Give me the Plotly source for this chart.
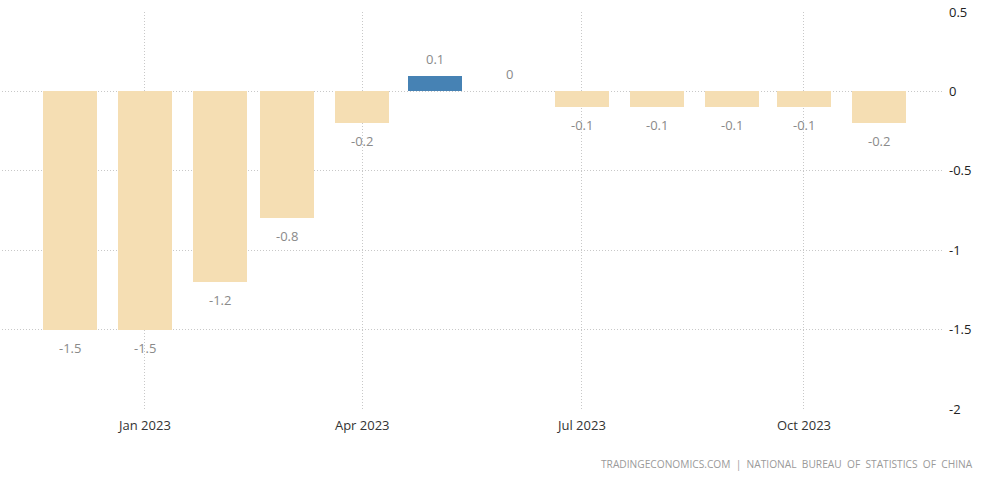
import plotly.graph_objects as go

months = ["2022-12-01", "2023-01-01", "2023-02-01", "2023-03-01", "2023-04-01", "2023-05-01",
          "2023-06-01", "2023-07-01", "2023-08-01", "2023-09-01", "2023-10-01", "2023-11-01"]
values = [-1.5, -1.5, -1.2, -0.8, -0.2, 0.1, 0, -0.1, -0.1, -0.1, -0.1, -0.2]
labels = ["-1.5", "-1.5", "-1.2", "-0.8", "-0.2", "0.1", "0", "-0.1", "-0.1", "-0.1", "-0.1", "-0.2"]
tick_vals = ["2023-01-01", "2023-04-01", "2023-07-01", "2023-10-01"]
tick_text = ["Jan 2023", "Apr 2023", "Jul 2023", "Oct 2023"]
y_ticks = [0.5, 0, -0.5, -1, -1.5, -2]
y_text = ["0.5", "0", "-0.5", "-1", "-1.5", "-2"]
source = "TRADINGECONOMICS.COM  |  NATIONAL  BUREAU  OF  STATISTICS  OF  CHINA"

FONT = "Open Sans"
colors = ["#4682B4" if v > 0 else "#F5DEB3" for v in values]
day_ms = 86400000

fig = go.Figure()
fig.add_trace(go.Bar(
    x=months, y=values, marker=dict(color=colors, line=dict(width=0)),
    width=[22.4 * day_ms] * len(values), hoverinfo="skip",
))

for m, v, t in zip(months, values, labels):
    fig.add_annotation(x=m, y=v, text=t, showarrow=False,
                       yshift=(17 if v >= 0 else -18),
                       font=dict(family=FONT, size=13, color="#8a8a8a"))

fig.add_annotation(xref="paper", yref="paper", x=1.034, y=-0.1385, xanchor="right",
                   yanchor="middle", text=source, showarrow=False,
                   font=dict(family=FONT, size=10.2, color="#9a9a9a"))

fig.update_layout(
    width=997, height=481,
    margin=dict(l=2, r=54, t=12, b=72),
    paper_bgcolor="white", plot_bgcolor="white",
    showlegend=False,
    bargap=0,
)
fig.update_xaxes(
    type="date", range=["2022-11-02 19:00", "2023-11-27 14:00"],
    tickvals=tick_vals, ticktext=tick_text,
    showgrid=True, gridcolor="#c8c8c8", griddash="1px,2px", gridwidth=1,
    tickfont=dict(family=FONT, size=13, color="#333333"),
    showline=False, zeroline=False, ticks="", ticklabelstandoff=7,
)
fig.update_yaxes(
    side="right", range=[-2, 0.5], tickvals=y_ticks, ticktext=y_text,
    showgrid=True, gridcolor="#c8c8c8", griddash="1px,2px", gridwidth=1,
    zeroline=False, showline=False, ticks="", ticklabelstandoff=5,
    tickfont=dict(family=FONT, size=13, color="#222222"),
)

fig.write_html("out.html")
